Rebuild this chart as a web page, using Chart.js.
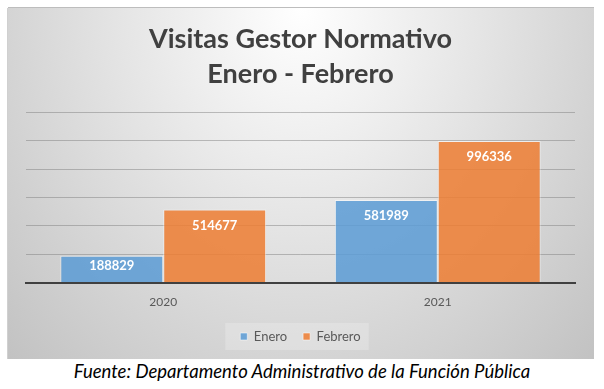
<!DOCTYPE html>
<html>
<head>
<meta charset="utf-8">
<script src="https://cdn.jsdelivr.net/npm/chart.js@4"></script>
<style>
  body { margin: 0; background: #ffffff; width: 604px; height: 389px; position: relative; overflow: hidden; }
  #box {
    position: absolute; left: 8px; top: 8px; width: 586px; height: 351px;
    background: radial-gradient(ellipse farthest-corner at 50% 0%, #ffffff 0%, #e4e4e4 45%, #c2c2c2 100%);
    box-shadow: 0 -1px 0 #bdbdbd, -1px 0 0 #d0d0d0;
  }
  #source {
    position: absolute; left: 0; top: 360px; width: 604px; text-align: center;
    font: italic 18.5px Lato, sans-serif; color: #000000;
  }
</style>
</head>
<body>
<div id="box"><canvas id="chart" width="586" height="351"></canvas></div>
<div id="source">Fuente: Departamento Administrativo de la Función Pública</div>
<script>
// Data
const years = ["2020", "2021"];
const enero = [188829, 581989];
const febrero = [514677, 996336];
const titleLines = ["Visitas Gestor Normativo", "Enero - Febrero"];

// Value labels inside top of each bar
const barLabels = {
    id: 'barLabels',
    afterDatasetsDraw(chart) {
        const ctx = chart.ctx;
        const base = chart.scales.y.getPixelForValue(0);
        ctx.save();
        ctx.fillStyle = '#ffffff';
        ctx.font = 'bold 13px Lato';
        ctx.textAlign = 'center';
        ctx.textBaseline = 'middle';
        chart.data.datasets.forEach((ds, i) => {
            chart.getDatasetMeta(i).data.forEach((bar, j) => {
                const y = Math.min(bar.y + 16, (bar.y + base) / 2 - 3);
                ctx.fillText(String(ds.data[j]), bar.x, y);
            });
        });
        ctx.restore();
    }
};

// Light box behind the legend
const legendBox = {
    id: 'legendBox',
    beforeDraw(chart) {
        const boxes = chart.legend.legendHitBoxes;
        if (!boxes || !boxes.length) return;
        const first = boxes[0], last = boxes[boxes.length - 1];
        const cy = first.top + first.height / 2;
        const ctx = chart.ctx;
        ctx.save();
        ctx.fillStyle = 'rgba(255,255,255,0.22)';
        ctx.fillRect(first.left - 15, cy - 13.5, last.left + last.width - first.left + 23, 27);
        ctx.restore();
    }
};

const ctx = document.getElementById('chart').getContext('2d');
new Chart(ctx, {
    type: 'bar',
    data: {
        labels: years,
        datasets: [{
            label: 'Enero',
            data: enero,
            backgroundColor: 'rgba(91,155,213,0.85)',
            borderColor: 'rgba(255,255,255,0.5)',
            borderWidth: 1
        }, {
            label: 'Febrero',
            data: febrero,
            backgroundColor: 'rgba(237,125,49,0.85)',
            borderColor: 'rgba(255,255,255,0.5)',
            borderWidth: 1
        }]
    },
    options: {
        responsive: false,
        animation: false,
        categoryPercentage: 0.75,
        barPercentage: 1,
        layout: { padding: { left: 18, right: 19, top: 0, bottom: 6 } },
        plugins: {
            title: {
                display: true,
                text: titleLines,
                color: '#404040',
                font: { family: 'Lato', size: 27, weight: 'bold', lineHeight: 1.3 },
                padding: { top: 14, bottom: 20 }
            },
            legend: {
                position: 'bottom',
                labels: {
                    color: '#595959',
                    font: { family: 'Lato', size: 13 },
                    boxWidth: 7,
                    boxHeight: 7,
                    padding: 16
                }
            },
            tooltip: { enabled: false }
        },
        scales: {
            x: {
                grid: { display: false, drawTicks: false },
                border: { color: '#404040', width: 2 },
                ticks: { color: '#595959', font: { family: 'Lato', size: 12 }, padding: 12 },
                afterFit(scale) { scale.height = scale.height - 7; }
            },
            y: {
                min: 0,
                max: 1200000,
                ticks: { display: false, stepSize: 200000 },
                border: { display: false },
                grid: { color: 'rgba(120,120,120,0.45)', drawTicks: false }
            }
        }
    },
    plugins: [legendBox, barLabels]
});
</script>
</body>
</html>
